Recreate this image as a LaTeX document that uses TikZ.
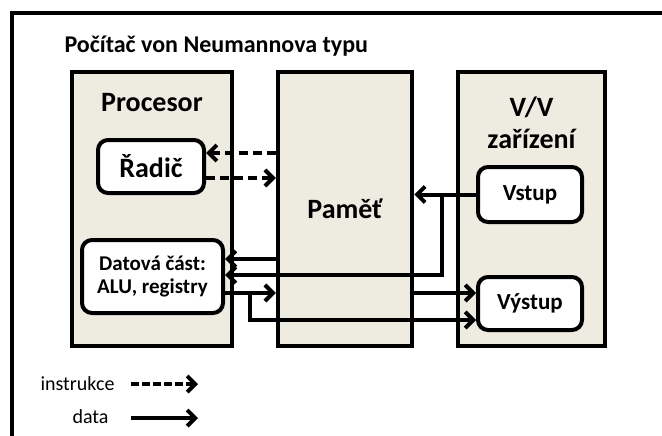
\documentclass[tikz,border=0pt]{standalone}
\usepackage{fontspec}
\setmainfont{Carlito}
\usetikzlibrary{arrows.meta}
\definecolor{hellgrau}{HTML}{EEECE1}

\begin{document}
\begin{tikzpicture}[x=1pt,y=-1pt,
  block/.style={draw, line width=4.5pt, fill=hellgrau, minimum height=274pt, inner sep=0pt},
  unit/.style={draw, line width=4pt, fill=white, rounded corners=10pt, inner sep=0pt, align=center},
  instr/.style={line width=4pt, dash pattern=on 9pt off 5pt, -{Straight Barb[length=8pt,width=16pt]}},
  dat/.style={line width=4pt, -{Straight Barb[length=8pt,width=16pt]}},
  big/.style={font=\fontsize{28}{32}\selectfont\bfseries}]

  \useasboundingbox (0,0) rectangle (662,436);

  % Rahmen und Titel
  \draw[line width=4.5pt] (12,436) -- (12,13) -- (662,13);
  \node[anchor=base west, font=\fontsize{24}{28}\selectfont\bfseries] (titel) at (61,53) {Počítač von Neumannova typu};

  % Drei Bloecke
  \node[block, minimum width=160pt] (proc)  at (152,209)   {};
  \node[block, minimum width=134pt] (pamet) at (345,209)   {};
  \node[block, minimum width=147pt] (vv)    at (531.5,209) {};

  \node[big, anchor=base] (lproc)  at (152,112)   {Procesor};
  \node[big, anchor=base] (lpamet) at (345,218)   {Paměť};
  \node[big, anchor=base] (lvv)    at (531.5,117) {V/V};
  \node[big, anchor=base] (lzar)   at (531.5,148) {zařízení};

  % Einheiten
  \node[unit, big, minimum width=106pt, minimum height=53pt] (radic) at (151,166.5) {Řadič};
  \node[unit, minimum width=141pt, minimum height=73pt, font=\fontsize{21}{23}\selectfont\bfseries] (datova) at (152.5,276.5) {Datová část:\\ALU, registry};
  \node[unit, minimum width=104pt, minimum height=55pt, font=\fontsize{23}{27}\selectfont\bfseries] (vstup)  at (530,194.5) {Vstup};
  \node[unit, minimum width=104pt, minimum height=53pt, font=\fontsize{23}{27}\selectfont\bfseries] (vystup) at (530,303.5) {Výstup};

  % Instrukce
  \draw[instr] (pamet.west |- 0,153) -- (radic.east |- 0,153);
  \draw[instr] (radic.east |- 0,178) -- (pamet.west |- 0,178);

  % Data
  \draw[dat] (pamet.west |- 0,259) -- (datova.east |- 0,259);
  \coordinate (knoten1) at (442,194.5);
  \draw[dat] (vstup.west) -- (pamet.east |- vstup.west);
  \draw[dat] (knoten1) -- (knoten1 |- 0,275) -- (datova.east |- 0,275);
  \draw[dat] (datova.east |- 0,293) -- (pamet.west |- 0,293);
  \coordinate (knoten2) at (250,293);
  \draw[dat] (knoten2) -- (knoten2 |- 0,320) -- (vystup.west |- 0,320);
  \draw[dat] (pamet.east |- 0,293) -- (vystup.west |- 0,293);

  % Legende
  \node[anchor=base east, font=\fontsize{20}{24}\selectfont] (linstr) at (118,390) {instrukce};
  \node[anchor=base east, font=\fontsize{20}{24}\selectfont] (ldata)  at (112,423) {data};
  \coordinate (li1) at (131,384);
  \coordinate (li2) at (198,384);
  \draw[instr, dash pattern=on 8pt off 3pt] (li1) -- (li2);
  \coordinate (ld1) at (131,418);
  \coordinate (ld2) at (198,418);
  \draw[dat] (ld1) -- (ld2);
\end{tikzpicture}
\end{document}
